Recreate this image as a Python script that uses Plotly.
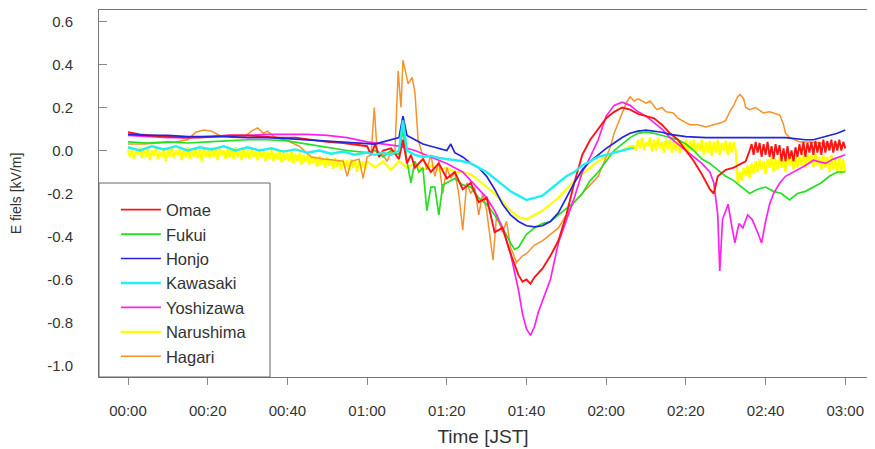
import plotly.graph_objects as go

# ---------------- data (minutes after 00:00 JST, E field kV/m) ----------------
omae_t = [0, 3, 6, 10, 14, 18, 22, 26, 30, 34, 38, 42, 46, 50, 54, 58, 60, 61, 62, 63, 64, 66, 68, 69, 70, 71, 72, 74, 76, 78,
          80, 82, 84, 86, 88, 90, 92, 94, 96, 98, 99, 100, 101, 102, 104, 106, 108, 110, 112, 114, 116, 118, 120, 122, 124,
          126, 128, 130, 132, 134, 136, 138, 140, 142, 144, 146, 147, 148, 150, 152, 154, 155, 156]
omae_v = [0.085, 0.075, 0.07, 0.065, 0.06, 0.06, 0.065, 0.07, 0.07, 0.065, 0.06, 0.06, 0.05, 0.04, 0.035, 0.025, 0.02, -0.02,
          0.03, -0.03, 0.0, 0.01, -0.04, 0.05, -0.06, -0.02, -0.08, -0.04, -0.1, -0.06, -0.13, -0.1, -0.18, -0.15, -0.24,
          -0.22, -0.38, -0.36, -0.48, -0.58, -0.61, -0.6, -0.62, -0.59, -0.55, -0.49, -0.42, -0.3, -0.15, -0.02, 0.05, 0.1,
          0.15, 0.18, 0.2, 0.19, 0.17, 0.16, 0.15, 0.12, 0.08, 0.05, 0.0, -0.05, -0.11, -0.18, -0.2, -0.12, -0.09, -0.08,
          -0.06, -0.05, 0.0]
# noisy band after 02:36, sampled every 0.5 min from 156.5 to 180
omae_band_v = [0.03, -0.02, 0.04, -0.01, 0.035, -0.03, 0.03, -0.02,
               0.04, -0.03, 0.02, -0.04, 0.03, -0.02, 0.025, -0.05,
               0.01, -0.05, 0.02, -0.04, 0.0, -0.05, 0.015, -0.03,
               0.03, -0.02, 0.04, -0.03, 0.035, -0.01, 0.04, -0.02,
               0.045, -0.01, 0.04, -0.02, 0.05, -0.01, 0.045, 0.0,
               0.05, -0.01, 0.045, 0.0, 0.05, 0.0, 0.04, 0.01]

fukui_t = [0, 5, 10, 15, 20, 25, 30, 35, 40, 45, 50, 55, 60, 62, 64, 66, 68, 69, 70, 71, 72, 73, 74, 75, 76, 77, 78, 79, 80,
           82, 84, 86, 88, 90, 92, 94, 96, 97, 98, 100, 102, 104, 106, 108, 110, 112, 114, 116, 118, 120, 122, 124, 126,
           128, 130, 132, 134, 136, 138, 140, 142, 144, 146, 148, 150, 152, 154, 156, 158, 160, 162, 164, 166, 168, 170,
           172, 174, 176, 178, 180]
fukui_v = [0.04, 0.035, 0.04, 0.035, 0.04, 0.045, 0.05, 0.05, 0.045, 0.03, 0.015, 0.0, -0.01, 0.0, -0.03, 0.0, -0.02, 0.1,
           -0.05, -0.15, -0.05, -0.1, -0.08, -0.28, -0.17, -0.17, -0.3, -0.16, -0.15, -0.13, -0.16, -0.17, -0.22, -0.25,
           -0.3, -0.36, -0.43, -0.46, -0.45, -0.39, -0.36, -0.34, -0.33, -0.3, -0.27, -0.24, -0.2, -0.14, -0.1, -0.05,
           0.0, 0.03, 0.06, 0.08, 0.085, 0.08, 0.07, 0.06, 0.05, 0.03, 0.0, -0.04, -0.06, -0.09, -0.12, -0.14, -0.17,
           -0.2, -0.18, -0.17, -0.19, -0.2, -0.23, -0.2, -0.19, -0.17, -0.15, -0.12, -0.1, -0.1]

honjo_t = [0, 5, 10, 15, 20, 25, 30, 35, 40, 45, 50, 55, 60, 62, 64, 66, 68, 69, 70, 72, 74, 76, 78, 80, 81, 82, 84, 86, 88,
           90, 92, 94, 96, 98, 100, 102, 104, 106, 108, 110, 112, 114, 116, 118, 120, 122, 124, 126, 128, 130, 132, 134,
           136, 138, 140, 145, 150, 155, 160, 165, 170, 172, 175, 178, 180]
honjo_v = [0.075, 0.07, 0.07, 0.065, 0.065, 0.065, 0.06, 0.06, 0.055, 0.05, 0.045, 0.04, 0.035, 0.03, 0.04, 0.05, 0.06, 0.16,
           0.07, 0.05, 0.03, 0.02, 0.01, 0.0, 0.03, -0.01, -0.03, -0.06, -0.08, -0.12, -0.18, -0.25, -0.3, -0.33, -0.35,
           -0.355, -0.35, -0.33, -0.29, -0.22, -0.15, -0.09, -0.05, -0.02, 0.01, 0.035, 0.06, 0.08, 0.09, 0.095, 0.09,
           0.085, 0.075, 0.07, 0.065, 0.06, 0.06, 0.06, 0.06, 0.06, 0.05, 0.05, 0.065, 0.08, 0.095]

kawasaki_t = [0, 3, 6, 9, 12, 15, 18, 21, 24, 27, 30, 33, 36, 39, 42, 45, 48, 51, 54, 57, 60, 62, 64, 66, 68, 69, 70, 72, 74,
              76, 78, 80, 82, 84, 86, 88, 90, 92, 94, 96, 98, 100, 102, 104, 106, 108, 110, 112, 114, 116, 118, 120, 122,
              124, 126, 127]
kawasaki_v = [0.015, 0.0, 0.02, 0.005, 0.02, 0.0, 0.015, 0.005, 0.02, 0.0, 0.015, 0.0, 0.01, -0.005, 0.005, -0.01, 0.0,
              -0.015, -0.005, -0.02, -0.01, -0.02, -0.01, -0.02, 0.0, 0.14, 0.0, -0.02, -0.03, -0.025, -0.035, -0.04,
              -0.045, -0.05, -0.06, -0.08, -0.1, -0.13, -0.16, -0.19, -0.21, -0.23, -0.22, -0.21, -0.18, -0.15, -0.12,
              -0.1, -0.07, -0.05, -0.03, -0.02, -0.01, 0.0, 0.01, 0.01]

yoshizawa_t = [0, 5, 10, 15, 20, 25, 30, 35, 40, 45, 50, 55, 60, 64, 68, 72, 76, 80, 84, 88, 90, 92, 94, 96, 97, 98, 99, 100,
               101, 102, 103, 104, 106, 108, 110, 112, 114, 116, 118, 120, 122, 124, 126, 128, 130, 132, 134, 136, 138,
               140, 142, 144, 146, 147, 148, 148.5, 149.2, 150.6, 151.5, 152.3, 153.3, 154.3, 155.5, 156.6, 158, 159, 160,
               161, 162, 163.6, 165, 167, 170, 172, 175, 177, 180]
yoshizawa_v = [0.07, 0.065, 0.06, 0.06, 0.065, 0.07, 0.07, 0.075, 0.075, 0.075, 0.07, 0.06, 0.04, 0.03, 0.02, 0.0, -0.03,
               -0.06, -0.1, -0.18, -0.22, -0.28, -0.36, -0.48, -0.56, -0.65, -0.76, -0.83, -0.86, -0.82, -0.75, -0.7,
               -0.6, -0.43, -0.33, -0.22, -0.1, -0.03, 0.05, 0.16, 0.21, 0.225, 0.21, 0.18, 0.16, 0.13, 0.1, 0.06, 0.03,
               0.0, -0.03, -0.06, -0.1, -0.15, -0.3, -0.56, -0.32, -0.25, -0.35, -0.43, -0.34, -0.36, -0.3, -0.32, -0.38,
               -0.43, -0.33, -0.25, -0.2, -0.15, -0.12, -0.1, -0.07, -0.045, -0.06, -0.04, -0.02]

# Narushima: noisy band 00:00-01:00 (every 0.5 min)
narushima_early_v = [0.0, -0.03, 0.01, -0.04, 0.0, -0.02, 0.015, -0.035, 0.005, -0.03,
                     0.01, -0.045, 0.0, -0.025, 0.015, -0.04, -0.005, -0.03, 0.01, -0.05,
                     0.005, -0.03, 0.015, -0.035, 0.0, -0.025, 0.01, -0.045, 0.005, -0.03,
                     0.015, -0.04, 0.0, -0.03, 0.01, -0.035, 0.005, -0.05, 0.01, -0.03,
                     0.0, -0.035, 0.015, -0.03, 0.005, -0.045, 0.01, -0.025, 0.0, -0.04,
                     0.01, -0.03, 0.005, -0.04, 0.015, -0.03, 0.0, -0.045, 0.01, -0.035,
                     0.0, -0.04, 0.01, -0.03, -0.005, -0.045, 0.005, -0.035, 0.0, -0.05,
                     -0.005, -0.04, 0.005, -0.05, -0.01, -0.04, 0.0, -0.055, -0.01, -0.045,
                     -0.01, -0.05, -0.005, -0.06, -0.015, -0.05, -0.01, -0.065, -0.02, -0.055,
                     -0.02, -0.065, -0.025, -0.06, -0.03, -0.075, -0.025, -0.065, -0.035, -0.08,
                     -0.03, -0.07, -0.04, -0.085, -0.035, -0.075, -0.045, -0.09, -0.04, -0.08,
                     -0.045, -0.095, -0.04, -0.08, -0.05, -0.1, -0.045, -0.085, -0.05, -0.09,
                     -0.05]
# Narushima: 01:02-02:06 (every 2 min)
narushima_mid_t = [62, 64, 66, 68, 70, 72, 74, 76, 78, 80, 82, 84, 86, 88, 90, 92, 94, 96, 98, 100, 102, 104, 106, 108,
                   110, 112, 114, 116, 118, 120, 122, 124, 126]
narushima_mid_v = [-0.08, -0.05, -0.09, -0.05, -0.08, -0.06, -0.09, -0.07, -0.09, -0.08, -0.1, -0.1, -0.11, -0.14, -0.17,
                   -0.2, -0.24, -0.28, -0.31, -0.32, -0.3, -0.28, -0.25, -0.22, -0.18, -0.14, -0.11, -0.08, -0.05,
                   -0.03, -0.01, 0.0, 0.02]
# Narushima: noisy band 02:07-03:00 (every 0.5 min)
narushima_late_v = [0.02, 0.0, 0.05, 0.01, 0.06, 0.0, 0.04, 0.02, 0.06, -0.005,
                    0.05, 0.0, 0.06, 0.01, 0.04, -0.01, 0.055, 0.005, 0.05, -0.01,
                    0.045, 0.0, 0.055, -0.015, 0.04, 0.005, 0.05, -0.02, 0.045, 0.0,
                    0.05, -0.015, 0.035, 0.0, 0.05, -0.02, 0.04, -0.01, 0.045, -0.025,
                    0.04, -0.01, 0.05, -0.02, 0.035, 0.0, 0.045, -0.02, 0.04, -0.01,
                    0.04, 0.0, -0.15,
                    -0.1, -0.14, -0.08, -0.12, -0.07, -0.13, -0.06, -0.11, -0.05,
                    -0.1, -0.04, -0.09, -0.05, -0.11, -0.04, -0.08, -0.03, -0.1, -0.04,
                    -0.09, -0.03, -0.08, -0.04, -0.1, -0.02, -0.07, -0.03, -0.09, -0.02,
                    -0.08, -0.03, -0.07, -0.01, -0.08, -0.02, -0.06, -0.02, -0.08, -0.01,
                    -0.07, -0.03, -0.09, -0.02, -0.08, -0.03, -0.1, -0.02, -0.09, -0.04,
                    -0.1, -0.03, -0.11, -0.04, -0.1]

hagari_t = [0, 4, 8, 12, 15, 17, 19, 21, 23, 26, 29, 31, 32.5, 34, 35, 37, 40, 43, 46, 49, 52, 54, 55, 56, 58, 59, 60, 61,
            61.8, 62.5, 64, 65, 66, 67, 67.8, 68.5, 69, 69.7, 70.3, 71.3, 72, 72.8, 74, 75, 76, 77, 78, 79, 80, 81, 82, 83,
            84, 85, 86, 87, 88, 89, 90, 91.6, 92.5, 94, 95, 96, 97.5, 99, 100, 102, 104, 106, 108, 110, 112, 114, 116, 118,
            120, 121, 122, 123.5, 125, 126, 127, 128, 130, 131, 132.7, 134, 135, 136.8, 138, 140, 141, 143, 145, 147, 149,
            150, 151, 152, 153, 153.6, 154.5, 155, 156, 157.5, 159.4, 161, 163.6, 164.5, 165, 166, 168.6, 171, 173.6, 176,
            179.5]
hagari_v = [0.03, 0.03, 0.035, 0.04, 0.05, 0.085, 0.095, 0.09, 0.07, 0.06, 0.06, 0.09, 0.105, 0.08, 0.09, 0.06, 0.045, 0.02,
            -0.03, -0.04, -0.045, -0.05, -0.12, -0.05, -0.04, -0.13, -0.03, -0.02, 0.2, 0.0, -0.02, -0.05, -0.01, 0.0,
            0.37, 0.2, 0.42, 0.36, 0.31, 0.34, 0.27, 0.05, -0.03, -0.09, -0.02, -0.12, -0.05, -0.2, -0.08, -0.13, -0.1,
            -0.2, -0.37, -0.15, -0.2, -0.17, -0.3, -0.2, -0.28, -0.51, -0.3, -0.38, -0.33, -0.45, -0.52, -0.49, -0.48,
            -0.44, -0.42, -0.39, -0.36, -0.3, -0.24, -0.2, -0.16, -0.12, -0.03, 0.015, 0.08, 0.155, 0.22, 0.25, 0.23,
            0.24, 0.22, 0.23, 0.19, 0.2, 0.18, 0.175, 0.15, 0.13, 0.12, 0.12, 0.11, 0.12, 0.13, 0.14, 0.18, 0.21, 0.25,
            0.26, 0.24, 0.2, 0.19, 0.2, 0.175, 0.18, 0.165, 0.12, 0.08, 0.06, 0.04, 0.04, 0.035, 0.03, 0.025]

x_tick_vals = [0, 20, 40, 60, 80, 100, 120, 140, 160, 180]
x_tick_text = ["00:00", "00:20", "00:40", "01:00", "01:20", "01:40", "02:00", "02:20", "02:40", "03:00"]
y_tick_vals = [-1.0, -0.8, -0.6, -0.4, -0.2, 0.0, 0.2, 0.4, 0.6]
y_tick_text = ["-1.0", "-0.8", "-0.6", "-0.4", "-0.2", "0.0", "0.2", "0.4", "0.6"]


def half_minute_grid(start, count):
    return [start + 0.5 * i for i in range(count)]


omae_t_all = omae_t + half_minute_grid(156.5, len(omae_band_v))
omae_v_all = omae_v + omae_band_v
narushima_t = (half_minute_grid(0, len(narushima_early_v)) + narushima_mid_t
               + half_minute_grid(127, len(narushima_late_v)))
narushima_v = narushima_early_v + narushima_mid_v + narushima_late_v

# ---------------- figure ----------------
FONT = "Liberation Sans, Arial, sans-serif"
# (name, t, v, color, width, legend rank) in drawing order
series = [
    ("Narushima", narushima_t, narushima_v, "#ffff00", 2.2, 6),
    ("Hagari", hagari_t, hagari_v, "#f7922a", 1.5, 7),
    ("Fukui", fukui_t, fukui_v, "#22e022", 1.7, 2),
    ("Yoshizawa", yoshizawa_t, yoshizawa_v, "#ff22ee", 1.7, 5),
    ("Omae", omae_t_all, omae_v_all, "#ff1414", 1.9, 1),
    ("Honjo", honjo_t, honjo_v, "#2424dd", 1.7, 3),
    ("Kawasaki", kawasaki_t, kawasaki_v, "#22eef2", 2.4, 4),
]

fig = go.Figure()
for name, t, v, col, w, rank in series:
    fig.add_trace(go.Scatter(x=t, y=v, mode="lines", name=name, legendrank=rank,
                             line=dict(color=col, width=w)))

# page body has an 8 px margin, so the figure is 8 px smaller than the window
fig.update_layout(
    width=867, height=441,
    margin=dict(l=91, r=8, t=2, b=72, autoexpand=False),
    paper_bgcolor="white", plot_bgcolor="white",
    font=dict(family=FONT, size=15, color="#333333"),
    showlegend=True,
    legend=dict(x=0.022, y=0.503, xanchor="left", yanchor="top",
                bgcolor="rgba(0,0,0,0)", borderwidth=0, itemwidth=40,
                font=dict(family=FONT, size=16.5, color="#333333"),
                tracegroupgap=0),
    shapes=[dict(type="rect", xref="paper", yref="paper", x0=0, x1=0.2227, y0=0, y1=0.5286,
                 line=dict(color="#666666", width=1), fillcolor="white", layer="above")],
)
fig.update_xaxes(range=[-7.28, 185.45], tickvals=x_tick_vals, ticktext=x_tick_text,
                 showgrid=False, zeroline=False, showline=True, mirror=True, linecolor="#777777", linewidth=1,
                 ticks="outside", ticklen=7, tickcolor="#888888", ticklabelstandoff=13,
                 tickfont=dict(size=15, color="#333333"),
                 title=dict(text="Time [JST]", font=dict(size=19, color="#333333"), standoff=11))
fig.update_yaxes(range=[-1.0535, 0.6535], tickvals=y_tick_vals, ticktext=y_tick_text,
                 showgrid=False, zeroline=False, showline=True, mirror=True, linecolor="#777777", linewidth=1,
                 ticks="inside", ticklen=8, tickcolor="#888888", ticklabelstandoff=22,
                 tickfont=dict(size=15, color="#333333"),
                 title=dict(text="E fiels [kV/m]", font=dict(size=14, color="#333333"), standoff=23))

fig.write_html("out.html")
